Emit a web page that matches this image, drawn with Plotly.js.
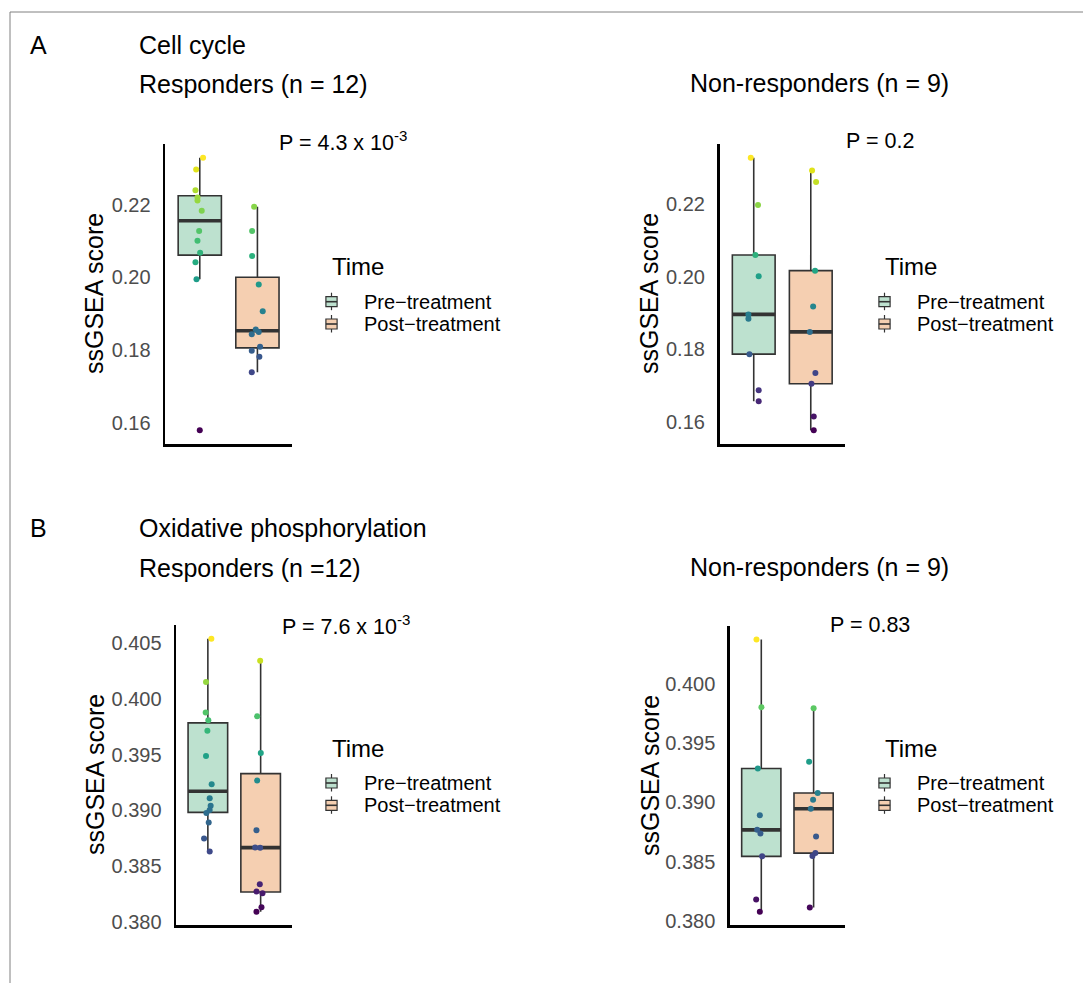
<!DOCTYPE html>
<html><head><meta charset="utf-8">
<script src="https://cdn.plot.ly/plotly-3.0.1.min.js"></script>
<style>html,body{margin:0;padding:0;background:#fff;}#chart{width:1083px;height:983px;}</style>
</head><body><div id="chart"></div>
<script>
// ---------- data ----------
const groups = ['Pre\u2212treatment', 'Post\u2212treatment'];
const legendTitle = 'Time';
const yTitle = 'ssGSEA score';

// Cell cycle, responders
const ccRespPre  = [0.2330,0.2297,0.2240,0.2220,0.2212,0.2184,0.2128,0.2101,0.2068,0.2042,0.1995,0.1579];
const ccRespPreJit  = [0.057,-0.063,-0.075,-0.04,-0.04,0.034,-0.011,-0.04,0.006,-0.075,-0.057,0];
const ccRespPost = [0.2195,0.2128,0.2059,0.1981,0.1907,0.1857,0.1850,0.1844,0.1809,0.1798,0.1782,0.1739];
const ccRespPostJit = [-0.057,-0.092,-0.092,0.023,0.092,-0.029,0.023,-0.098,0.046,-0.098,0.034,-0.098];
// Cell cycle, non-responders
const ccNonPre  = [0.2326,0.2196,0.2059,0.2001,0.1896,0.1884,0.1787,0.1688,0.1658];
const ccNonPreJit  = [-0.052,0.075,0.029,0.087,-0.093,-0.093,-0.075,0.087,0.087];
const ccNonPost = [0.2291,0.2259,0.2016,0.1918,0.1848,0.1735,0.1706,0.1616,0.1578];
const ccNonPostJit = [0.023,0.093,0.075,0.041,-0.017,0.081,0.012,0.052,0.052];
// Oxidative phosphorylation, responders
const oxRespPre  = [0.40543,0.40154,0.39879,0.39810,0.39715,0.39490,0.39236,0.39110,0.39042,0.39003,0.38976,0.38892,0.38749,0.38632];
const oxRespPreJit  = [0.066,-0.035,-0.041,0.009,-0.009,-0.035,0.072,0.035,0.053,0.034,-0.028,0.016,-0.072,0.035];
const oxRespPost = [0.40345,0.39846,0.39517,0.39269,0.38823,0.38668,0.38665,0.38336,0.38271,0.38256,0.38130,0.38091];
const oxRespPostJit = [-0.009,-0.066,0.003,-0.066,-0.079,-0.104,-0.009,-0.016,-0.079,0.035,0.016,-0.079];
// Oxidative phosphorylation, non-responders
const oxNonPre  = [0.40370,0.39801,0.39285,0.38891,0.38769,0.38738,0.38546,0.38183,0.38080];
const oxNonPreJit  = [-0.092,0.003,-0.066,-0.028,-0.079,-0.016,0.016,-0.098,-0.028];
const oxNonPost = [0.39792,0.39343,0.39079,0.39023,0.38947,0.38713,0.38573,0.38548,0.38116];
const oxNonPostJit = [0,-0.086,0.078,-0.010,-0.054,0.047,0.034,-0.022,-0.073];

const ticksCC = [0.16,0.18,0.20,0.22];
const ticksOxL = [0.380,0.385,0.390,0.395,0.400,0.405];
const ticksOxR = [0.380,0.385,0.390,0.395,0.400];

const pTexts = ['P = 4.3 x 10<sup>-3</sup>','P = 0.2','P = 7.6 x 10<sup>-3</sup>','P = 0.83'];
const headings = ['A','Cell cycle','Responders (n = 12)','Non-responders (n = 9)','B','Oxidative phosphorylation','Responders (n =12)','Non-responders (n = 9)'];

// ---------- style / layout ----------
const W = 1083, H = 983;
const FONT = 'Liberation Sans, Arial, Helvetica, sans-serif';
const fills = ['rgb(189,225,207)','rgb(245,207,177)'];
const boxLine = '#333333';
const px = x => x / W, py = y => 1 - y / H;

function q7(arr, p){
  const s = [...arr].sort((a,b)=>a-b);
  const h = (s.length-1)*p, lo = Math.floor(h), hi = Math.min(lo+1, s.length-1);
  return s[lo] + (h-lo)*(s[hi]-s[lo]);
}
function stats(arr){
  const q1 = q7(arr,0.25), med = q7(arr,0.5), q3 = q7(arr,0.75), iqr = q3-q1;
  const lf = Math.min(...arr.filter(v => v >= q1-1.5*iqr));
  const uf = Math.max(...arr.filter(v => v <= q3+1.5*iqr));
  return {q1, med, q3, lf, uf};
}

const panels = [
  {pre:ccRespPre, preJit:ccRespPreJit, post:ccRespPost, postJit:ccRespPostJit, box:[165.2,292,144,444], ticks:ticksCC, fmt:2,
   p:[277,141], yt:[94,294], leg:[330,266.7]},
  {pre:ccNonPre, preJit:ccNonPreJit, post:ccNonPost, postJit:ccNonPostJit, box:[719.5,845,144,444], ticks:ticksCC, fmt:2,
   p:[844,141], yt:[649,294], leg:[883,266.7]},
  {pre:oxRespPre, preJit:oxRespPreJit, post:oxRespPost, postJit:oxRespPostJit, box:[176.2,292.3,625,925.3], ticks:ticksOxL, fmt:3,
   p:[280,625], yt:[95,775], leg:[330,748]},
  {pre:oxNonPre, preJit:oxNonPreJit, post:oxNonPost, postJit:oxNonPostJit, box:[729.9,845,626,925.3], ticks:ticksOxR, fmt:3,
   p:[828,625], yt:[650,776], leg:[883,748]},
];

const traces = [], layout = {
  width: W, height: H, margin:{l:0,r:0,t:0,b:0},
  paper_bgcolor:'#fff', plot_bgcolor:'#fff', showlegend:false,
  font:{family:FONT, color:'#000'}, annotations:[], shapes:[]
};

panels.forEach((P, i) => {
  const n = i+1, xa = n===1?'x':'x'+n, ya = n===1?'y':'y'+n;
  const xk = n===1?'xaxis':'xaxis'+n, yk = n===1?'yaxis':'yaxis'+n;
  const all = P.pre.concat(P.post);
  const mn = Math.min(...all), mx = Math.max(...all), ex = (mx-mn)*0.05;
  [P.pre, P.post].forEach((vals, g) => {
    const s = stats(vals);
    traces.push({type:'box', orientation:'v', x:[g], q1:[s.q1], median:[s.med], q3:[s.q3],
      lowerfence:[s.lf], upperfence:[s.uf], width:0.75, whiskerwidth:0, boxpoints:false,
      fillcolor:fills[g], line:{color:boxLine, width:1.6}, name:groups[g],
      xaxis:xa, yaxis:ya, hoverinfo:'skip'});
    traces.push({type:'scatter', mode:'lines', x:[g-0.375, g+0.375], y:[s.med, s.med],
      line:{color:boxLine, width:3.6}, xaxis:xa, yaxis:ya, hoverinfo:'skip'});
  });
  const xs = P.pre.map((v,k)=>0+P.preJit[k]).concat(P.post.map((v,k)=>1+P.postJit[k]));
  traces.push({type:'scatter', mode:'markers', x:xs, y:all, xaxis:xa, yaxis:ya,
    marker:{size:6, color:all, colorscale:'Viridis', cmin:mn, cmax:mx, showscale:false}});
  const [x0,x1,y0,y1] = P.box;
  layout[xk] = {domain:[px(x0),px(x1)], range:[-0.6,1.6], anchor:ya, showticklabels:false, ticks:'',
    showgrid:false, zeroline:false, showline:true, linecolor:'#000', linewidth:2.6, fixedrange:true};
  layout[yk] = {domain:[py(y1),py(y0)], range:[mn-ex, mx+ex], anchor:xa, tickvals:P.ticks,
    ticktext:P.ticks.map(t=>t.toFixed(P.fmt)), tickfont:{size:20, color:'#4d4d4d', family:FONT},
    ticks:'outside', ticklen:8, tickcolor:'rgba(0,0,0,0)', showgrid:false, zeroline:false,
    showline:true, linecolor:'#000', linewidth:2.6, fixedrange:true};
  // p value
  layout.annotations.push({xref:'paper', yref:'paper', x:px(P.p[0]), y:py(P.p[1]), xanchor:'left', yanchor:'middle',
    text:pTexts[i], showarrow:false, font:{size:21.5, color:'#000', family:FONT}});
  // y title
  layout.annotations.push({xref:'paper', yref:'paper', x:px(P.yt[0]), y:py(P.yt[1]), xanchor:'center', yanchor:'middle',
    text:yTitle, textangle:-90, showarrow:false, font:{size:25, color:'#000', family:FONT}});
  // legend
  const [lx, ly] = P.leg;
  layout.annotations.push({xref:'paper', yref:'paper', x:px(lx), y:py(ly), xanchor:'left', yanchor:'middle',
    text:legendTitle, showarrow:false, font:{size:24, color:'#000', family:FONT}});
  groups.forEach((g, k) => {
    const cy = ly + 35 + k*22.3, cx = lx + 1.5;
    layout.shapes.push({type:'line', xref:'paper', yref:'paper', x0:px(cx), x1:px(cx), y0:py(cy-9), y1:py(cy+8.5), line:{color:boxLine, width:1.2}});
    layout.shapes.push({type:'rect', xref:'paper', yref:'paper', x0:px(cx-5.6), x1:px(cx+5.6), y0:py(cy-5), y1:py(cy+5), fillcolor:fills[k], line:{color:boxLine, width:1.2}});
    layout.shapes.push({type:'line', xref:'paper', yref:'paper', x0:px(cx-5.6), x1:px(cx+5.6), y0:py(cy), y1:py(cy), line:{color:boxLine, width:1.6}});
    layout.annotations.push({xref:'paper', yref:'paper', x:px(lx+32), y:py(cy), xanchor:'left', yanchor:'middle',
      text:g, showarrow:false, font:{size:20, color:'#000', family:FONT}});
  });
});

// headings
const headPos = [[28,45],[137,45],[137,84],[688,83],[28,528],[137,528],[137,568],[688,567]];
headings.forEach((t, k) => {
  layout.annotations.push({xref:'paper', yref:'paper', x:px(headPos[k][0]), y:py(headPos[k][1]), xanchor:'left', yanchor:'middle',
    text:t, showarrow:false, font:{size:25, color:'#000', family:FONT}});
});
// figure frame (top and left edges)
layout.shapes.push({type:'line', xref:'paper', yref:'paper', x0:px(10), x1:1, y0:py(12), y1:py(12), line:{color:'#808080', width:1}});
layout.shapes.push({type:'line', xref:'paper', yref:'paper', x0:px(10), x1:px(10), y0:py(12), y1:0, line:{color:'#808080', width:1}});

Plotly.newPlot('chart', traces, layout, {displayModeBar:false, staticPlot:true});
</script>
</body></html>
